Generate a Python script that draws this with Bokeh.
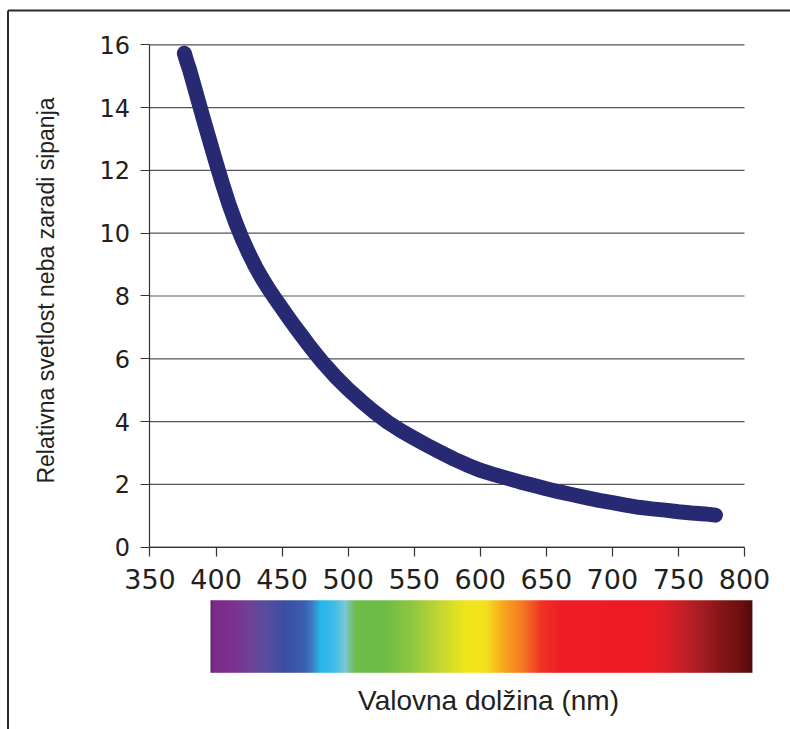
import math
import numpy as np
from bokeh.plotting import figure
from bokeh.models import Range1d, FixedTicker, Label
from bokeh.embed import file_html
from bokeh.resources import INLINE

# ---- data ----
wavelength_nm = [376, 378, 380, 383, 386, 390, 395, 400, 405, 410, 415, 420, 425, 430,
                 435, 440, 445, 450, 455, 460, 465, 470, 475, 480, 490, 500, 510, 520,
                 530, 540, 550, 560, 570, 580, 590, 600, 610, 620, 630, 640, 650, 660,
                 670, 680, 690, 700, 710, 720, 730, 740, 750, 760, 770, 778]
relative_brightness = [15.73, 15.45, 15.2, 14.75, 14.3, 13.7, 12.97, 12.25, 11.55, 10.9,
                       10.32, 9.8, 9.34, 8.92, 8.55, 8.21, 7.9, 7.6, 7.3, 7.01, 6.73,
                       6.45, 6.18, 5.92, 5.45, 5.03, 4.65, 4.3, 3.98, 3.71, 3.47, 3.24,
                       3.02, 2.81, 2.62, 2.45, 2.32, 2.2, 2.08, 1.97, 1.86, 1.76, 1.67,
                       1.58, 1.49, 1.42, 1.34, 1.27, 1.22, 1.18, 1.13, 1.09, 1.06, 1.02]
x_ticks = [350, 400, 450, 500, 550, 600, 650, 700, 750, 800]
y_ticks = [0, 2, 4, 6, 8, 10, 12, 14, 16]
x_title = "Valovna dolžina (nm)"
y_title = "Relativna svetlost neba zaradi sipanja"

# spectrum bar decoration: colour stops along wavelength
spectrum_nm = [395.8, 398, 411, 425, 437, 452, 466, 473, 479, 490, 498, 505, 526, 547,
               570, 589, 604, 611, 619, 631, 646, 660, 722, 736, 752, 767, 782, 797, 806]
spectrum_colors = ["#5a2466", "#7a2a88", "#7e2f90", "#6f4196", "#5a4c9e", "#3c4ea2",
                   "#3b5cae", "#3d7cc4", "#27b5ea", "#3fbde8", "#7cc8d6", "#6ebd4a",
                   "#6cbb45", "#8dc63f", "#c6d732", "#f0e61b", "#f4e01c", "#f7c11c",
                   "#f7a01e", "#f47c22", "#ef3324", "#ee1c25", "#ed1c24", "#e31e26",
                   "#c51f27", "#a41c21", "#851517", "#6a0f10", "#500808"]

# ---- layout constants (canvas pixels -> data) ----
W, H = 790, 729
X0, X1 = 236.84, 834.82
Y0, Y1 = -5.806, 17.411
px_x = (X1 - X0) / W
px_y = (Y1 - Y0) / H
SPEC_TOP, SPEC_BOTTOM = -1.69, -4.0
TICK_FONT = "DejaVu Sans"
FONT = "Liberation Sans"
TEXT = "#231f20"

p = figure(width=W, height=H, output_backend="svg", toolbar_location=None,
           x_range=Range1d(X0, X1), y_range=Range1d(Y0, Y1), min_border=0,
           title=None)
p.outline_line_color = None
p.background_fill_color = "white"
p.border_fill_color = "white"
p.xgrid.visible = False
p.ygrid.visible = False

# gridlines between the axis bounds
p.segment(x0=[x_ticks[0]] * len(y_ticks), x1=[x_ticks[-1]] * len(y_ticks),
          y0=y_ticks, y1=y_ticks, line_color="#555555", line_width=1.2)

# axes placed inside the frame
p.xaxis.fixed_location = 0
p.yaxis.fixed_location = x_ticks[0]
p.xaxis.bounds = (x_ticks[0], x_ticks[-1])
p.yaxis.bounds = (y_ticks[0], y_ticks[-1])
p.xaxis.ticker = FixedTicker(ticks=x_ticks)
p.yaxis.ticker = FixedTicker(ticks=y_ticks)
for ax in (p.xaxis, p.yaxis):
    ax.axis_line_color = "#333333"
    ax.axis_line_width = 1.2
    ax.major_tick_line_color = "#333333"
    ax.major_tick_line_width = 1.2
    ax.major_tick_in = 0
    ax.major_tick_out = 9
    ax.minor_tick_line_color = None
    ax.major_label_text_font = TICK_FONT
    ax.major_label_text_color = TEXT

p.xaxis.major_label_text_font_size = "27px"
p.xaxis.major_label_standoff = 13
p.yaxis.major_label_text_font_size = "24px"
p.yaxis.major_label_standoff = 11

# outer frame lines (top and left)
top_y = Y1 - 10 * px_y
left_x = X0 + 7.5 * px_x
p.segment(x0=[left_x, left_x], y0=[top_y, top_y], x1=[X1, left_x], y1=[top_y, Y0],
          line_color="#2b2b2b", line_width=2)

# axis titles
p.add_layout(Label(x=X0 + 488 * px_x, y=Y1 - 700 * px_y, text=x_title,
                   text_align="center", text_baseline="alphabetic",
                   text_font=FONT, text_font_size="28px", text_color=TEXT))
p.add_layout(Label(x=X0 + 45 * px_x, y=Y1 - 290 * px_y, text=y_title,
                   angle=math.pi / 2, text_align="center", text_baseline="middle",
                   text_font=FONT, text_font_size="23px", text_color=TEXT))

# spectrum bar as a smooth gradient image
def hex2rgb(h):
    return [int(h[i:i + 2], 16) for i in (1, 3, 5)]

n = 540
s0, s1 = spectrum_nm[0], spectrum_nm[-1]
mids = s0 + (np.arange(n) + 0.5) * (s1 - s0) / n
stops = np.array([hex2rgb(c) for c in spectrum_colors], dtype=float)
rgb = np.stack([np.interp(mids, spectrum_nm, stops[:, k]) for k in range(3)], axis=1)
rgb = np.round(rgb).astype(np.uint32)
img = (255 << 24) | (rgb[:, 2] << 16) | (rgb[:, 1] << 8) | rgb[:, 0]
img = img.astype(np.uint32).reshape(1, n)
p.image_rgba(image=[img], x=s0, y=SPEC_BOTTOM, dw=s1 - s0, dh=SPEC_TOP - SPEC_BOTTOM)

# curve
p.line(wavelength_nm, relative_brightness, line_color="#272a73", line_width=15,
       line_cap="round", line_join="round")

open("out.html", "w").write(file_html(p, INLINE))
